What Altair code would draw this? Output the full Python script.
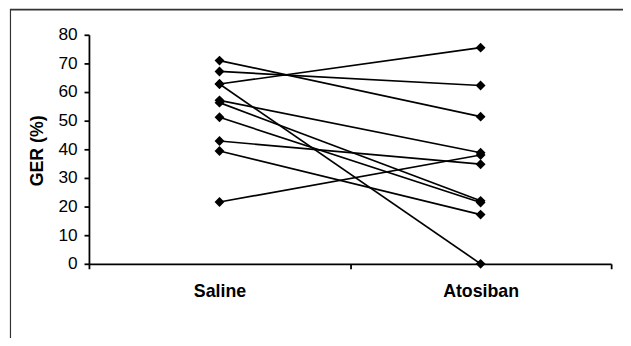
import altair as alt
import pandas as pd

groups = ["Saline", "Atosiban"]
subjects = [1, 2, 3, 4, 5, 6, 7, 8, 9, 10]
saline = [71.0, 67.2, 62.8, 62.8, 57.1, 56.3, 51.2, 42.9, 39.4, 21.6]
atosiban = [51.4, 62.3, 75.5, 0.0, 38.8, 22.0, 21.4, 34.8, 17.2, 38.0]
y_ticks = [0, 10, 20, 30, 40, 50, 60, 70, 80]

rows = []
for s, a, b in zip(subjects, saline, atosiban):
    rows.append({"subject": s, "group": groups[0], "value": a})
    rows.append({"subject": s, "group": groups[1], "value": b})
df = pd.DataFrame(rows)

FONT = "Liberation Sans"

x_enc = alt.X(
    "group:N",
    sort=groups,
    scale=alt.Scale(type="band", paddingInner=0, paddingOuter=0),
    axis=alt.Axis(
        title=None,
        labelAngle=0,
        labelFont=FONT,
        labelFontSize=18,
        labelFontWeight="bold",
        labelColor="black",
        labelPadding=14,
        tickBand="extent",
        tickSize=5,
        tickColor="black",
        domainColor="black",
        domainWidth=1.8,
        tickWidth=1.8,
        grid=False,
    ),
)
y_enc = alt.Y(
    "value:Q",
    scale=alt.Scale(domain=[0, 80], nice=False, zero=True),
    axis=alt.Axis(
        title="GER (%)",
        values=y_ticks,
        labelFont=FONT,
        labelFontSize=17.5,
        labelColor="black",
        labelPadding=7,
        tickSize=5,
        tickColor="black",
        domainColor="black",
        domainWidth=1.8,
        tickWidth=1.8,
        grid=False,
        titleFont=FONT,
        titleFontSize=18,
        titleFontWeight="bold",
        titleColor="black",
        titleAngle=270,
        titleAlign="center",
        titleBaseline="middle",
        titleX=-52,
        titleY=117,
    ),
)

base = alt.Chart(df)
lines = base.mark_line(color="black", strokeWidth=1.7).encode(
    x=x_enc, y=y_enc, detail="subject:N"
)
points = base.mark_point(
    shape="diamond", filled=True, color="black", size=100, opacity=1
).encode(x=x_enc, y=y_enc)

frame_data = alt.Data(values=[{"k": 1}])
top_border = alt.Chart(frame_data).mark_rule(color="#333333", strokeWidth=2).encode(
    x=alt.value(-80), x2=alt.value(545), y=alt.value(-25.5)
)
left_border = alt.Chart(frame_data).mark_rule(color="#333333", strokeWidth=1.2).encode(
    x=alt.value(-79.5), y=alt.value(-26), y2=alt.value(330)
)

chart = (
    alt.layer(top_border, left_border, lines, points)
    .properties(
        width=529,
        height=232,
        autosize=alt.AutoSizeParams(type="none"),
        padding={"left": 82, "top": 25, "right": 12, "bottom": 73},
        background="white",
    )
    .configure_view(stroke=None)
)

chart.save("out.html", embed_options={"renderer": "svg", "actions": False})
